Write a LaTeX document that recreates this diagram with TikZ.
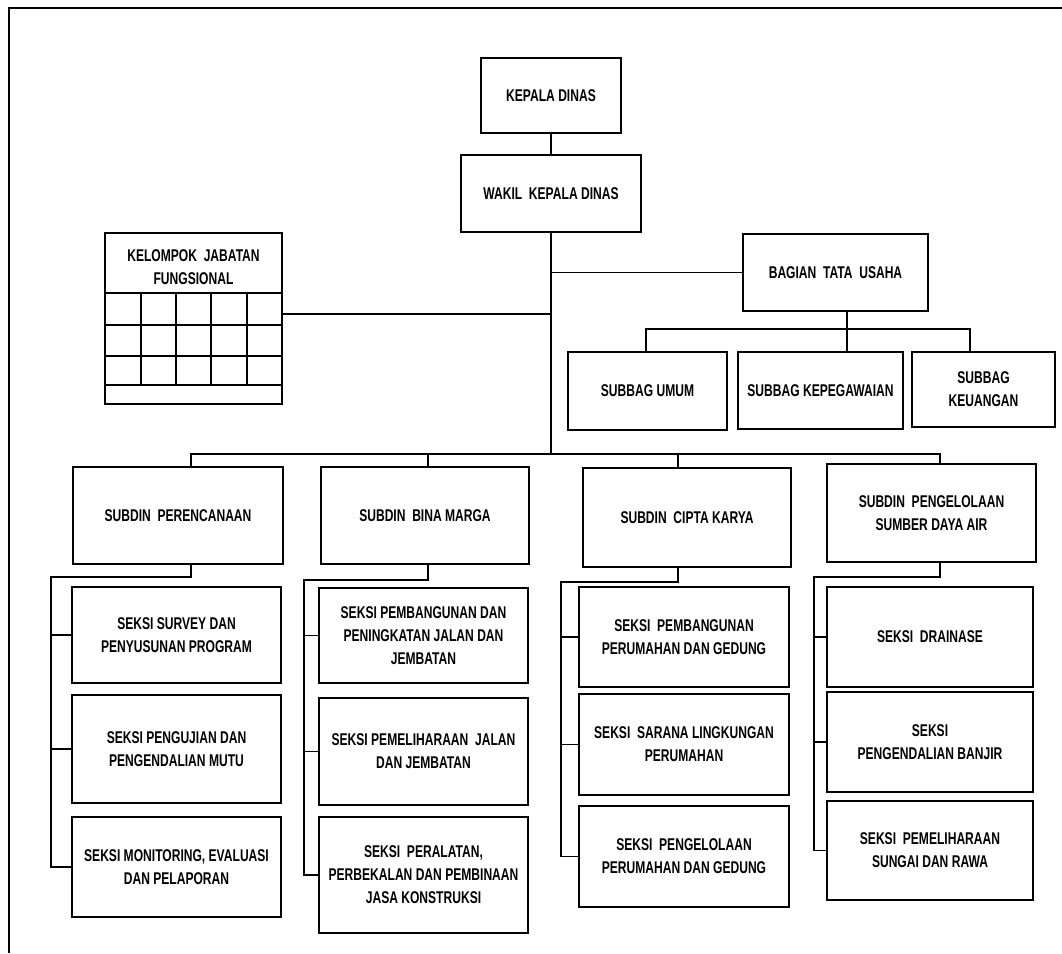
\documentclass[tikz,border=0pt]{standalone}
\usepackage{fontspec}
\setmainfont{Liberation Sans}[FakeStretch=0.71]
\begin{document}
\begin{tikzpicture}[x=1pt,y=-1pt,
  box/.style={draw=black,line width=1.6pt,fill=white,inner sep=2pt,align=center,
    font=\fontsize{17}{23}\selectfont\bfseries},
  wire/.style={draw=black,line width=1.6pt},
  lbl/.style={inner sep=0pt,align=center,font=\fontsize{17}{23}\selectfont\bfseries}]
\useasboundingbox (0,0) rectangle (1062,953);
% frame
\draw[line width=2.4pt] (9,953) -- (9,8) -- (1062,8);

% top of the hierarchy
\node[box,minimum width=140pt,minimum height=75pt] (kd)  at (551,95.5)  {KEPALA DINAS};
\node[box,minimum width=180pt,minimum height=77pt] (wkd) at (551,193.5) {WAKIL\ \ KEPALA DINAS};

% functional group with its grid
\node[box,minimum width=177pt,minimum height=171pt] (kjf) at (193.5,318.5) {};
\node[lbl] (kjftitle) at (193.5,267) {KELOMPOK\ \ JABATAN\\FUNGSIONAL};
\draw[line width=1.3pt] (105,293) -- (282,293) (105,325) -- (282,325)
  (105,356) -- (282,356) (105,385) -- (282,385);
\foreach \gx in {141,176,211,247} \draw[line width=1.3pt] (\gx,293) -- (\gx,385);

% administration
\node[box,minimum width=185pt,minimum height=77pt] (btu)   at (835.5,272.5) {BAGIAN\ \ TATA\ \ USAHA};
\node[box,minimum width=159pt,minimum height=78pt] (sbu)   at (647.5,391)   {SUBBAG UMUM};
\node[box,minimum width=165pt,minimum height=77pt] (sbk)   at (820.5,390.5) {SUBBAG KEPEGAWAIAN};
\node[box,minimum width=143pt,minimum height=75pt] (sbkeu) at (983.5,389.5) {SUBBAG\\KEUANGAN};

% sub-offices
\node[box,minimum width=210pt,minimum height=97pt] (sp)    at (178,515.5)   {SUBDIN\ \ PERENCANAAN};
\node[box,minimum width=208pt,minimum height=97pt] (sbm)   at (425,515.5)   {SUBDIN\ \ BINA MARGA};
\node[box,minimum width=208pt,minimum height=99pt] (sck)   at (687,517.5)   {SUBDIN\ \ CIPTA KARYA};
\node[box,minimum width=209pt,minimum height=98pt] (spsda) at (931.5,513)   {SUBDIN\ \ PENGELOLAAN\\SUMBER DAYA AIR};

% sections, column 1
\node[box,minimum width=209pt,minimum height=96pt]  (s11) at (176.5,635) {SEKSI SURVEY DAN\\PENYUSUNAN PROGRAM};
\node[box,minimum width=209pt,minimum height=108pt] (s12) at (176.5,749) {SEKSI PENGUJIAN DAN\\PENGENDALIAN MUTU};
\node[box,minimum width=209pt,minimum height=100pt] (s13) at (176.5,867) {SEKSI MONITORING, EVALUASI\\DAN PELAPORAN};
% sections, column 2
\node[box,minimum width=209pt,minimum height=95pt]  (s21) at (423.5,635.5) {SEKSI PEMBANGUNAN DAN\\PENINGKATAN JALAN DAN\\JEMBATAN};
\node[box,minimum width=209pt,minimum height=107pt] (s22) at (423.5,751.5) {SEKSI PEMELIHARAAN\ \ JALAN\\DAN JEMBATAN};
\node[box,minimum width=209pt,minimum height=116pt] (s23) at (423.5,875)   {SEKSI\ \ PERALATAN,\\PERBEKALAN DAN PEMBINAAN\\JASA KONSTRUKSI};
% sections, column 3
\node[box,minimum width=210pt,minimum height=100pt] (s31) at (684,637)   {SEKSI\ \ PEMBANGUNAN\\PERUMAHAN DAN GEDUNG};
\node[box,minimum width=210pt,minimum height=101pt] (s32) at (684,744.5) {SEKSI\ \ SARANA LINGKUNGAN\\PERUMAHAN};
\node[box,minimum width=210pt,minimum height=101pt] (s33) at (684,856.5) {SEKSI\ \ PENGELOLAAN\\PERUMAHAN DAN GEDUNG};
% sections, column 4
\node[box,minimum width=206pt,minimum height=100pt] (s41) at (930,637)   {SEKSI\ \ DRAINASE};
\node[box,minimum width=206pt,minimum height=100pt] (s42) at (930,742)   {SEKSI\\PENGENDALIAN BANJIR};
\node[box,minimum width=206pt,minimum height=99pt]  (s43) at (930,850.5) {SEKSI\ \ PEMELIHARAAN\\SUNGAI DAN RAWA};

% bus points
\coordinate (sbus) at (552,454);
\coordinate (tbus) at (847,329);
\coordinate (c1) at (51,577);
\coordinate (c2) at (304,580);
\coordinate (c3) at (561,582);
\coordinate (c4) at (814,577);

% main trunk and upper links
\draw[wire] (kd.south) -- (wkd.north);
\draw[wire] (wkd.south) -- (wkd.south |- sbus);
\draw[wire] ([yshift=4.5pt]kjf.east) -- ([yshift=4.5pt]kjf.east -| sbus);
\draw[wire] (btu.west -| sbus) -- (btu.west);

% administration branch
\draw[wire] ([xshift=11.5pt]btu.south) -- ([xshift=26.5pt]sbk.north);
\draw[wire] ([xshift=-1.5pt]sbu.north) |- (tbus) -| ([xshift=-13.5pt]sbkeu.north);

% sub-office bus
\draw[wire] ([xshift=13pt]sp.north) |- (sbus) -| ([xshift=8.5pt]spsda.north);
\draw[wire] ([xshift=3pt]sbm.north) -- ([xshift=3pt]sbm.north |- sbus);
\draw[wire] ([xshift=-9pt]sck.north) -- ([xshift=-9pt]sck.north |- sbus);

% column 1 links
\draw[wire] ([xshift=13pt]sp.south) |- (c1) |- (s13.west);
\draw[wire] (s11.west -| c1) -- (s11.west);
\draw[wire] (s12.west -| c1) -- (s12.west);
% column 2 links
\draw[wire] ([xshift=3pt]sbm.south) |- (c2) |- (s23.west);
\draw[wire] (s21.west -| c2) -- (s21.west);
\draw[wire] (s22.west -| c2) -- (s22.west);
% column 3 links
\draw[wire] ([xshift=-9pt]sck.south) |- (c3) |- (s33.west);
\draw[wire] (s31.west -| c3) -- (s31.west);
\draw[wire] (s32.west -| c3) -- (s32.west);
% column 4 links
\draw[wire] ([xshift=8.5pt]spsda.south) |- (c4) |- (s43.west);
\draw[wire] (s41.west -| c4) -- (s41.west);
\draw[wire] (s42.west -| c4) -- (s42.west);
\end{tikzpicture}
\end{document}
